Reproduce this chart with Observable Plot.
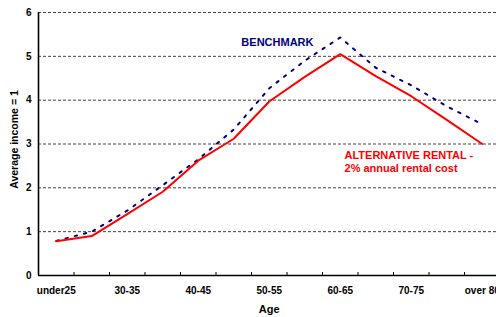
<!DOCTYPE html>
<html>
<head>
<meta charset="utf-8">
<script src="https://cdn.jsdelivr.net/npm/d3@7"></script>
<script src="https://cdn.jsdelivr.net/npm/@observablehq/plot@0.6"></script>
<style>
  html, body { margin: 0; padding: 0; background: #fff; overflow: hidden; }
  #chart { width: 496px; height: 317px; overflow: hidden; }
  #chart svg { max-width: none !important; }
</style>
</head>
<body>
<div id="chart"></div>
<script>
const ages = ["under25","25-30","30-35","35-40","40-45","45-50","50-55","55-60","60-65","65-70","70-75","75-80","over 80"];
const benchmark   = [0.79, 1.00, 1.48, 2.06, 2.65, 3.33, 4.27, 4.90, 5.43, 4.74, 4.34, 3.86, 3.45];
const alternative = [0.78, 0.90, 1.40, 1.91, 2.62, 3.12, 3.97, 4.53, 5.05, 4.55, 4.09, 3.55, 3.00];
const yTicks = [0, 1, 2, 3, 4, 5, 6];
const labeledAges = ages.filter((d, i) => i % 2 === 0);

const pos = (a) => ages.indexOf(a) + 0.5;
const benchData = ages.map((a, i) => ({age: a, v: benchmark[i]}));
const altData = ages.map((a, i) => ({age: a, v: alternative[i]}));

const font = "'Liberation Sans', Arial, Helvetica, sans-serif";

const chart = Plot.plot({
  width: 500,
  height: 317,
  marginLeft: 38,
  marginRight: 0.5,
  marginTop: 12,
  marginBottom: 42,
  x: {domain: [0, ages.length], axis: null},
  y: {domain: [0, 6], axis: null},
  style: {fontFamily: font, fontSize: "10px", fontWeight: "bold", background: "#fff", color: "#000"},
  marks: [
    Plot.ruleY(yTicks.filter(d => d > 0), {stroke: "#444", strokeDasharray: "3,2", strokeWidth: 1}),
    Plot.axisY(yTicks, {tickSize: 0, tickPadding: 7, label: null, fontWeight: "bold", fontSize: 10}),
    Plot.axisX(labeledAges.map(pos), {tickSize: 0, tickPadding: 11, label: null, tickFormat: d => ages[Math.floor(d)], fontWeight: "bold", fontSize: 10}),
    Plot.ruleX(d3.range(1, ages.length), {x: d => d, insetTop: 260, stroke: "#000", strokeWidth: 1}),
    Plot.ruleX([0], {stroke: "#000", strokeWidth: 1.6}),
    Plot.ruleY([0], {stroke: "#000", strokeWidth: 1.6}),
    Plot.line(benchData, {x: d => pos(d.age), y: "v", stroke: "#000080", strokeWidth: 2, strokeDasharray: "2.5,7"}),
    Plot.line(altData, {x: d => pos(d.age), y: "v", stroke: "#ff0000", strokeWidth: 2}),
    Plot.text(["BENCHMARK"], {x: 6.73, y: 5.32, text: d => d, fill: "#000080", fontSize: 11, fontWeight: "bold"}),
    Plot.text(["ALTERNATIVE RENTAL -"], {x: 8.62, y: 2.74, text: d => d, fill: "#ff0000", fontSize: 11, fontWeight: "bold", textAnchor: "start"}),
    Plot.text(["2% annual rental cost"], {x: 8.62, y: 2.44, text: d => d, fill: "#ff0000", fontSize: 11, fontWeight: "bold", textAnchor: "start"}),
    Plot.text(["Average income = 1"], {frameAnchor: "left", dx: -24, dy: -4.5, rotate: -90, textAnchor: "middle", lineAnchor: "middle", text: d => d, fontSize: 10.5, fontWeight: "bold"}),
    Plot.text(["Age"], {frameAnchor: "bottom", dy: 34, textAnchor: "middle", lineAnchor: "middle", text: d => d, fontSize: 11, fontWeight: "bold"})
  ]
});
document.getElementById("chart").appendChild(chart);
</script>
</body>
</html>
